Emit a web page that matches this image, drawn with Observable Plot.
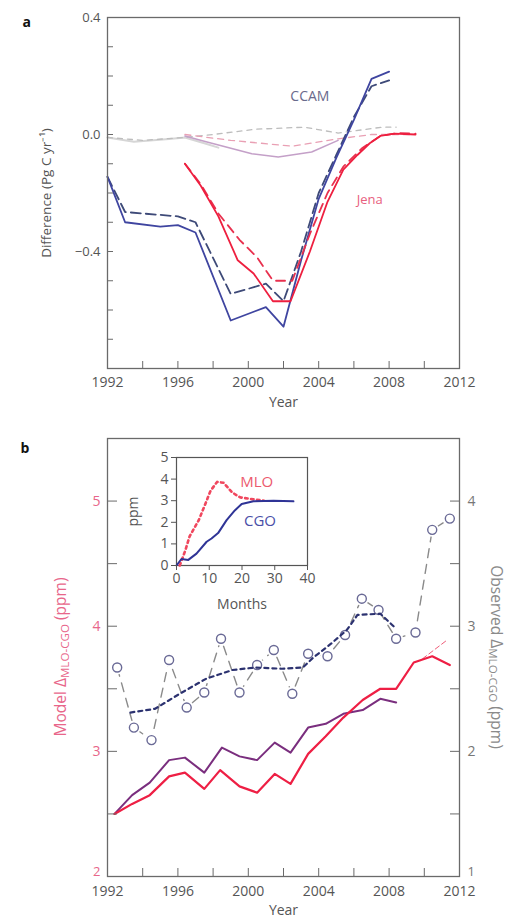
<!DOCTYPE html>
<html><head><meta charset="utf-8">
<script src="https://cdn.jsdelivr.net/npm/d3@7"></script>
<script src="https://cdn.jsdelivr.net/npm/@observablehq/plot@0.6"></script>
<style>
body{margin:0;background:#fff;}
#wrap{position:relative;width:511px;height:922px;font-family:"Open Sans",sans-serif;}
#wrap svg{position:absolute;overflow:visible;}
</style></head><body><div id="wrap"></div>
<script>
// ---------- Panel a data ----------
const ccamYear = [1992,1993,1995,1996,1997,1999,2001,2002,2003,2004,2005,2006,2007,2008];
const ccamSolid = [-0.145,-0.30,-0.315,-0.31,-0.335,-0.636,-0.59,-0.657,-0.43,-0.22,-0.08,0.05,0.19,0.215];
const ccamDashed = [-0.145,-0.265,-0.275,-0.28,-0.30,-0.545,-0.51,-0.57,-0.40,-0.20,-0.07,0.06,0.165,0.185];
const jenaSolidYear = [1996.4,1997.3,1998.3,1999.4,2000.3,2001.4,2002.4,2003.5,2004.5,2005.4,2006.2,2006.9,2007.5,2008.3,2009.5];
const jenaSolid = [-0.10,-0.175,-0.28,-0.43,-0.475,-0.57,-0.57,-0.40,-0.23,-0.12,-0.07,-0.03,-0.005,0.003,0.0];
const jenaDashedYear = [1996.4,1997.3,1998.3,1999.5,2000.5,2001.4,2002.5,2003.5,2004.5,2005.4,2006.5,2007.5,2008.5,2009.5];
const jenaDashed = [-0.10,-0.17,-0.27,-0.36,-0.42,-0.50,-0.50,-0.34,-0.20,-0.11,-0.045,-0.005,0.005,0.003];
const faintGreyYear = [1992,1993.5,1995.5,1996.4,1997.5,1998.3];
const faintGrey = [-0.01,-0.025,-0.015,-0.01,-0.03,-0.045];
const faintGreyDashYear = [1992,1994,1996.4,1998,2000.4,2003.2,2005.1,2007.6,2008.4];
const faintGreyDash = [-0.01,-0.02,-0.01,0.0,0.018,0.025,0.005,0.025,0.025];
const faintPinkDashYear = [1996.4,1999,2002.5,2005.1,2007,2009.3];
const faintPinkDash = [0.0,-0.02,-0.04,-0.015,0.0,0.0];
const faintPurpleYear = [1996.4,1997.6,2000.2,2001.7,2003.6,2005.1];
const faintPurple = [-0.005,-0.025,-0.066,-0.077,-0.06,-0.02];
const aYTicks = [-0.8,-0.7,-0.6,-0.5,-0.4,-0.3,-0.2,-0.1,0,0.1,0.2,0.3,0.4];
const aYLabels = [-0.4,0,0.4];
const yearTicks = [1992,1994,1996,1998,2000,2002,2004,2006,2008,2010,2012];
const yearLabels = [1992,1996,2000,2004,2008,2012];

// ---------- Panel b data ----------
const modelYear = [1992.4,1993.4,1994.4,1995.5,1996.4,1997.5,1998.4,1999.5,2000.5,2001.5,2002.4,2003.4,2004.4,2005.4,2006.5,2007.5,2008.4,2009.4,2010.45,2011.45];
const modelRed = [2.50,2.58,2.65,2.80,2.83,2.70,2.85,2.72,2.67,2.82,2.74,2.98,3.12,3.27,3.41,3.50,3.50,3.71,3.76,3.69];
const purpleYear = [1992.4,1993.4,1994.4,1995.5,1996.4,1997.5,1998.5,1999.5,2000.5,2001.5,2002.4,2003.4,2004.4,2005.4,2006.5,2007.5,2008.4];
const modelPurple = [2.50,2.65,2.75,2.93,2.95,2.83,3.03,2.96,2.93,3.07,2.99,3.19,3.22,3.30,3.33,3.42,3.39];
const redExtYear = [2009.9,2011.3];
const redExt = [3.74,3.89];
const obsYear = [1992.55,1993.5,1994.5,1995.5,1996.5,1997.5,1998.45,1999.5,2000.5,2001.45,2002.5,2003.4,2004.5,2005.5,2006.45,2007.4,2008.4,2009.5,2010.45,2011.45];
const obsValue = [2.67,2.19,2.09,2.73,2.35,2.47,2.90,2.47,2.69,2.81,2.46,2.78,2.76,2.93,3.22,3.13,2.90,2.95,3.77,3.86];
const smoothYear = [1993.3,1994.7,1996.1,1997.6,1999.1,2000.4,2001.9,2003.1,2003.7,2004.7,2005.6,2006.2,2007.5,2008.1,2008.4];
const smoothValue = [2.31,2.34,2.46,2.58,2.65,2.67,2.66,2.67,2.75,2.86,2.97,3.09,3.10,3.02,2.98];
const bYTicks = [2,2.5,3,3.5,4,4.5,5,5.5];
const bYLabelsUpper = [3,4,5];
const bYLabelsBottom = [2];
const obsOffset = 1; // observed axis = model axis - 1

// ---------- Inset data ----------
const mloMonth = [1,2.7,4,6.8,8.8,10.4,12.4,14.4,17,19.5,23.6,26.7];
const mloValue = [0,0.7,1.35,2.1,2.85,3.46,3.87,3.83,3.38,3.15,3.06,3.0];
const cgoMonth = [0,1.5,3.6,6.1,9.2,10.7,12.7,15.3,17.8,19.9,23.5,29.6,35.7];
const cgoValue = [0,0.3,0.26,0.55,1.1,1.25,1.5,2.1,2.55,2.85,2.97,3.0,2.97];
const insetYTicks = [0,1,2,3,4,5];
const insetXTicks = [0,10,20,30,40];

const zip = (xs, ys) => xs.map((x, i) => ({x, y: ys[i]}));
const font = "Open Sans";
const grey = "#555";
const frameC = "#6a6a6a";

// ---------- Panel a ----------
const pa = Plot.plot({
  width: 511, height: 420,
  marginLeft: 107, marginRight: 52, marginTop: 17, marginBottom: 52,
  style: {fontFamily: font, fontSize: "13px", background: "transparent", overflow: "visible"},
  x: {domain: [1992, 2012]},
  y: {domain: [-0.8, 0.4]},
  marks: [
    Plot.line(zip(faintGreyYear, faintGrey), {x: "x", y: "y", stroke: "#d6d6d6", strokeWidth: 2}),
    Plot.line(zip(faintGreyDashYear, faintGreyDash), {x: "x", y: "y", stroke: "#bdbdbd", strokeWidth: 1.3, strokeDasharray: "5,5"}),
    Plot.line(zip(faintPinkDashYear, faintPinkDash), {x: "x", y: "y", stroke: "#e9a0b4", strokeWidth: 1.3, strokeDasharray: "6,5"}),
    Plot.line(zip(faintPurpleYear, faintPurple), {x: "x", y: "y", stroke: "#c4a0c8", strokeWidth: 1.5}),
    Plot.line(zip(ccamYear, ccamDashed), {x: "x", y: "y", stroke: "#3e4a78", strokeWidth: 1.8, strokeDasharray: "10,5"}),
    Plot.line(zip(ccamYear, ccamSolid), {x: "x", y: "y", stroke: "#3f45a0", strokeWidth: 1.8}),
    Plot.line(zip(jenaDashedYear, jenaDashed), {x: "x", y: "y", stroke: "#e8304e", strokeWidth: 1.8, strokeDasharray: "9,6"}),
    Plot.line(zip(jenaSolidYear, jenaSolid), {x: "x", y: "y", stroke: "#ee1f3f", strokeWidth: 1.8}),
    Plot.frame({stroke: frameC, strokeWidth: 1.3}),
    Plot.axisY({ticks: aYTicks, tickSize: 6, dx: 6, tickFormat: () => "", stroke: frameC, label: null}),
    Plot.axisY({ticks: aYLabels, tickSize: 0, tickPadding: 7, tickFormat: d3.format(".1f"), fill: grey, fontSize: 13, label: null}),
    Plot.axisX({ticks: yearTicks, tickSize: 7, dy: -7, tickFormat: () => "", stroke: frameC, label: null}),
    Plot.axisX({ticks: yearLabels, tickSize: 0, tickPadding: 9, tickFormat: d3.format("d"), fill: grey, fontSize: 14, label: null}),
    Plot.text(["Year"], {frameAnchor: "bottom", dy: 38, fill: grey, fontSize: 14}),
    Plot.text(["Difference (Pg C yr\u207B\u00B9)"], {frameAnchor: "left", textAnchor: "middle", dx: -61, rotate: -90, fill: grey, fontSize: 13.5}),
    Plot.text(["a"], {frameAnchor: "top-left", dx: -85, dy: 0, fill: "#111", fontSize: 14, fontWeight: "bold"}),
    Plot.text([{x: 2003.5, y: 0.13, t: "CCAM"}], {x: "x", y: "y", text: "t", fill: "#6a6a8c", fontSize: 14}),
    Plot.text([{x: 2006.9, y: -0.225, t: "Jena"}], {x: "x", y: "y", text: "t", fill: "#e8607e", fontSize: 13})
  ]
});
pa.style.left = "0px"; pa.style.top = "0px";
document.getElementById("wrap").appendChild(pa);

// ---------- Panel b ----------
const pb = Plot.plot({
  width: 511, height: 502,
  marginLeft: 107, marginRight: 52, marginTop: 18, marginBottom: 46,
  style: {fontFamily: font, fontSize: "13px", background: "transparent", overflow: "visible"},
  x: {domain: [1992, 2012]},
  y: {domain: [2, 5.5]},
  marks: [
    Plot.line(zip(obsYear, obsValue), {x: "x", y: d => d.y + obsOffset, stroke: "#8a8a8a", strokeWidth: 1.4, strokeDasharray: "9,7"}),
    Plot.dot(zip(obsYear, obsValue), {x: "x", y: d => d.y + obsOffset, r: 7, fill: "white"}),
    Plot.dot(zip(obsYear, obsValue), {x: "x", y: d => d.y + obsOffset, r: 4.5, fill: "white", stroke: "#6a6a96", strokeWidth: 1.4}),
    Plot.line(zip(smoothYear, smoothValue), {x: "x", y: d => d.y + obsOffset, stroke: "#2c3270", strokeWidth: 2.2, strokeDasharray: "4,4"}),
    Plot.line(zip(redExtYear, redExt), {x: "x", y: "y", stroke: "#ef5c78", strokeWidth: 1, strokeDasharray: "5,3"}),
    Plot.line(zip(purpleYear, modelPurple), {x: "x", y: "y", stroke: "#7a2e7e", strokeWidth: 2}),
    Plot.line(zip(modelYear, modelRed), {x: "x", y: "y", stroke: "#ee1f44", strokeWidth: 2.2}),
    Plot.frame({stroke: frameC, strokeWidth: 1.3}),
    Plot.axisY({anchor: "left", ticks: bYTicks, tickSize: 10, dx: 10, tickFormat: () => "", stroke: frameC, label: null}),
    Plot.axisY({anchor: "right", ticks: bYTicks, tickSize: 10, dx: -10, tickFormat: () => "", stroke: frameC, label: null}),
    Plot.axisY({anchor: "left", ticks: bYLabelsUpper, tickSize: 0, tickPadding: 7, tickFormat: d3.format("d"), fill: "#e8668a", fontSize: 14, label: null}),
    Plot.axisY({anchor: "left", ticks: bYLabelsBottom, tickSize: 0, tickPadding: 7, dy: -5, tickFormat: d3.format("d"), fill: "#e8668a", fontSize: 13, label: null}),
    Plot.axisY({anchor: "right", ticks: bYLabelsUpper, tickSize: 0, tickPadding: 8, tickFormat: d => String(d - obsOffset), fill: "#777", fontSize: 14, label: null}),
    Plot.axisY({anchor: "right", ticks: bYLabelsBottom, tickSize: 0, tickPadding: 8, dy: -5, tickFormat: d => String(d - obsOffset), fill: "#777", fontSize: 13, label: null}),
    Plot.axisX({ticks: yearTicks, tickSize: 8, dy: -8, tickFormat: () => "", stroke: frameC, label: null}),
    Plot.axisX({ticks: yearLabels, tickSize: 0, tickPadding: 10, tickFormat: d3.format("d"), fill: grey, fontSize: 14, label: null}),
    Plot.text(["Year"], {frameAnchor: "bottom", dy: 38, fill: grey, fontSize: 14}),
    Plot.text(["b"], {frameAnchor: "top-left", dx: -87, dy: 5, fill: "#111", fontSize: 14, fontWeight: "bold"})
  ]
});
pb.style.left = "0px"; pb.style.top = "420px";
document.getElementById("wrap").appendChild(pb);

function addTitle(svg, x, y, rot, main, sub, tail, color, size) {
  const t = d3.select(svg).append("text")
    .attr("transform", `translate(${x},${y}) rotate(${rot})`)
    .attr("text-anchor", "middle").attr("dominant-baseline", "middle")
    .attr("fill", color).attr("font-family", font).attr("font-size", size);
  t.append("tspan").text(main);
  t.append("tspan").text(sub).attr("font-size", size * 0.75).attr("dy", "0.3em");
  t.append("tspan").text(tail).attr("dy", "-0.22em");
}
addTitle(pb, 62, 237, -90, "Model \u0394", "MLO-CGO", " (ppm)", "#e8668a", 15.5);
addTitle(pb, 495, 237, 90, "Observed \u0394", "MLO-CGO", " (ppm)", "#8a8a8a", 15.5);

// ---------- Inset ----------
const pi = Plot.plot({
  width: 200, height: 175,
  marginLeft: 56, marginRight: 13, marginTop: 12, marginBottom: 55,
  style: {fontFamily: font, fontSize: "14px", background: "transparent", overflow: "visible"},
  x: {domain: [0, 40]},
  y: {domain: [0, 5]},
  marks: [
    Plot.frame({fill: "white", stroke: "#555", strokeWidth: 1.2}),
    Plot.line(zip(mloMonth, mloValue), {x: "x", y: "y", stroke: "#f0475e", strokeWidth: 2.6, strokeDasharray: "2.5,3.5"}),
    Plot.line(zip(cgoMonth, cgoValue), {x: "x", y: "y", stroke: "#2f3496", strokeWidth: 2}),
    Plot.axisY({ticks: insetYTicks, tickSize: 5, tickPadding: 3, tickFormat: d3.format("d"), fill: grey, stroke: "#555", fontSize: 14, label: null}),
    Plot.axisX({ticks: insetXTicks, tickSize: 5, tickPadding: 3, tickFormat: d3.format("d"), fill: grey, stroke: "#555", fontSize: 14, label: null}),
    Plot.text(["Months"], {frameAnchor: "bottom", dy: 43, fill: grey, fontSize: 14}),
    Plot.text(["ppm"], {frameAnchor: "left", textAnchor: "middle", dx: -43, rotate: -90, fill: grey, fontSize: 14}),
    Plot.text([{x: 24.5, y: 3.85, t: "MLO"}], {x: "x", y: "y", text: "t", fill: "#ec5a6e", fontSize: 15}),
    Plot.text([{x: 25.5, y: 2.07, t: "CGO"}], {x: "x", y: "y", text: "t", fill: "#4a4fa8", fontSize: 15})
  ]
});
pi.style.left = "120px"; pi.style.top = "445px";
document.getElementById("wrap").appendChild(pi);
</script>
</body></html>
